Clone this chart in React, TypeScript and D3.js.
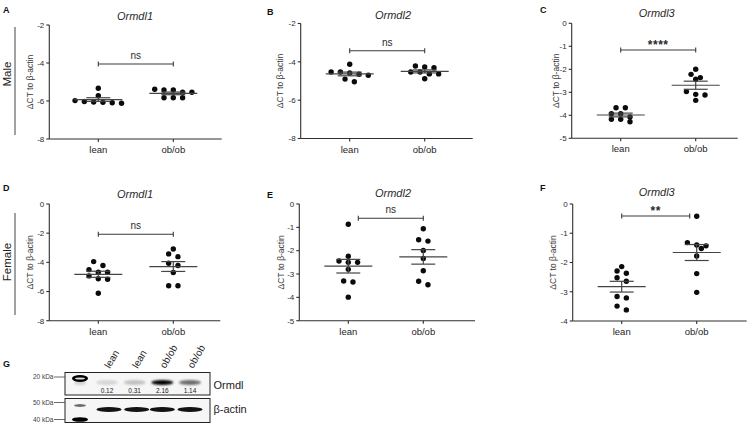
import React from "react";
import * as d3 from "d3";

const FONT = "'Liberation Sans', Arial, Helvetica, sans-serif";

const groups = ["lean", "ob/ob"];
const panelLetters = ["A", "B", "C", "D", "E", "F"];
const genes = ["Ormdl1", "Ormdl2", "Ormdl3", "Ormdl1", "Ormdl2", "Ormdl3"];
const sigLabels = ["ns", "ns", "****", "ns", "ns", "**"];
const sexLabels = ["Male", "Female"];
const yAxisTitle = "\u0394CT to \u03b2-actin";

const leanA = [-6.07, -5.98, -6.09, -5.72, -5.33, -6.03, -6.12, -6.05];
const obA = [-5.38, -5.54, -5.83, -5.42, -5.83, -5.54, -5.83, -5.42];
const leanB = [-4.53, -4.65, -5.04, -4.13, -4.7, -4.58, -4.9, -4.53];
const obB = [-4.31, -4.63, -4.53, -4.88, -4.27, -4.63, -4.22, -4.53];
const leanC = [-3.93, -4.28, -3.67, -4.07, -3.67, -3.93, -4.17, -4.17];
const obC = [-2.0, -2.22, -2.36, -2.43, -3.12, -2.97, -3.09, -3.35];
const leanD = [-3.95, -4.68, -5.16, -4.5, -4.93, -4.22, -4.68, -5.12, -6.12];
const obD = [-3.08, -3.61, -3.42, -4.22, -4.06, -4.7, -5.6, -5.6];
const leanE = [-0.87, -2.24, -2.5, -2.44, -2.5, -2.8, -3.34, -3.3, -3.99];
const obE = [-1.06, -1.59, -1.53, -1.99, -2.33, -2.86, -3.46, -3.31];
const leanF = [-2.14, -2.37, -2.29, -2.64, -2.52, -3.21, -3.16, -3.49, -3.62];
const obF = [-0.42, -1.32, -1.4, -1.43, -1.52, -1.78, -2.38, -3.02];

const ticksA = [-8, -6, -4, -2];
const ticksB = [-8, -6, -4, -2];
const ticksC = [-5, -4, -3, -2, -1, 0];
const ticksD = [-8, -6, -4, -2, 0];
const ticksE = [-5, -4, -3, -2, -1, 0];
const ticksF = [-4, -3, -2, -1, 0];

const blotLanes = ["lean", "lean", "ob/ob", "ob/ob"];
const blotQuant = [0.12, 0.31, 2.16, 1.14];
const blotTargets = ["Ormdl", "\u03b2-actin"];
const markerLabels = ["20 kDa", "50 kDa", "40 kDa"];

const panelData = [
  [leanA, obA],
  [leanB, obB],
  [leanC, obC],
  [leanD, obD],
  [leanE, obE],
  [leanF, obF],
];
const panelTicks = [ticksA, ticksB, ticksC, ticksD, ticksE, ticksF];

// layout (pixel geometry only)
const layouts = [
  { x0: 49.3, w: 172.4, yTop: 25, yBot: 139, lx: 3, ly: 9.5, tx: 135, ty: 20, ytX: 30, brY: 64, brL: 0, brR: 0 },
  { x0: 300.7, w: 172, yTop: 23.5, yBot: 138.5, lx: 267, ly: 11.5, tx: 393, ty: 19, ytX: 280, brY: 50.7, brL: 0, brR: 0 },
  { x0: 571.7, w: 166, yTop: 23.3, yBot: 138.3, lx: 540, ly: 9.5, tx: 656.7, ty: 17, ytX: 556, brY: 50, brL: 0, brR: 0 },
  { x0: 49.3, w: 171, yTop: 204, yBot: 320.7, lx: 3, ly: 187.5, tx: 135, ty: 198, ytX: 30, brY: 234.3, brL: 0, brR: 0 },
  { x0: 299.3, w: 175.7, yTop: 204, yBot: 320.7, lx: 267, ly: 194.5, tx: 393, ty: 197.3, ytX: 280.7, brY: 218.3, brL: 10, brR: 0 },
  { x0: 572.7, w: 174, yTop: 204, yBot: 321, lx: 540, ly: 187.5, tx: 656.7, ty: 196.3, ytX: 553.3, brY: 216, brL: 0, brR: -7 },
];

const R = 2.7;
const STEP = 9.3;

function swarm(ys: number[], cx: number) {
  const idx = ys.map((_, i) => i).sort((a, b) => ys[a] - ys[b]);
  const xs = new Array(ys.length).fill(cx);
  const placed: [number, number][] = [];
  let i = 0;
  while (i < idx.length) {
    const row = [idx[i]];
    let j = i + 1;
    while (j < idx.length && ys[idx[j]] - ys[idx[i]] < 4) {
      row.push(idx[j]);
      j++;
    }
    const n = row.length;
    const shifts = [0, 0.5, -0.5, 1, -1];
    let chosen: number[] | null = null;
    for (const s of shifts) {
      const cand = row.map((_, m) => cx + (m - (n - 1) / 2 + s) * STEP);
      const ok = row.every((k, m) =>
        placed.every(([px, py]) => Math.hypot(px - cand[m], py - ys[k]) >= 4.4)
      );
      if (ok) {
        chosen = cand;
        break;
      }
    }
    if (!chosen) chosen = row.map((_, m) => cx + (m - (n - 1) / 2) * STEP);
    row.forEach((k, m) => {
      xs[k] = chosen![m];
      placed.push([chosen![m], ys[k]]);
    });
    i = j;
  }
  return xs;
}

function Panel({ p }: { p: number }) {
  const L = layouts[p];
  const ticks = panelTicks[p];
  const [lo, hi] = d3.extent(ticks) as [number, number];
  const y = d3.scaleLinear().domain([lo, hi]).range([L.yBot, L.yTop]);
  const x = d3.scalePoint<string>().domain(groups).range([L.x0 + 49, L.x0 + 124]);
  const axisCol = "#2e2e2e";
  const lineCol = "#444";
  const data = panelData[p];
  const midY = (L.yTop + L.yBot) / 2;
  const bx1 = (x(groups[0]) as number) + L.brL;
  const bx2 = (x(groups[1]) as number) + L.brR;
  const sig = sigLabels[p];
  const isStar = sig.startsWith("*");
  return (
    <g>
      <text x={L.lx} y={L.ly + 3.3} fontSize={9} fontWeight="bold" fontFamily={FONT} fill="#111">
        {panelLetters[p]}
      </text>
      <text x={L.tx} y={L.ty} fontSize={11} fontStyle="italic" fontFamily={FONT} fill="#2a2a2a" textAnchor="middle">
        {genes[p]}
      </text>
      <text
        transform={`translate(${L.ytX + 3},${midY}) rotate(-90)`}
        fontSize={8.5}
        fontFamily={FONT}
        fill="#3a3a3a"
        textAnchor="middle"
      >
        {yAxisTitle}
      </text>
      {/* y axis */}
      <line x1={L.x0} x2={L.x0} y1={L.yTop} y2={L.yBot} stroke={axisCol} strokeWidth={1.1} />
      {ticks.map((t) => (
        <g key={t}>
          <line x1={L.x0 - 3} x2={L.x0} y1={y(t)} y2={y(t)} stroke={axisCol} strokeWidth={1.1} />
          <text x={L.x0 - 5} y={y(t) + 2.8} fontSize={8} fontFamily={FONT} fill="#2a2a2a" textAnchor="end">
            {t}
          </text>
        </g>
      ))}
      {/* x axis */}
      <line x1={L.x0} x2={L.x0 + L.w} y1={L.yBot} y2={L.yBot} stroke={axisCol} strokeWidth={1.1} />
      {groups.map((g) => (
        <g key={g}>
          <line x1={x(g)} x2={x(g)} y1={L.yBot} y2={L.yBot + 3} stroke={axisCol} strokeWidth={1.1} />
          <text x={x(g)} y={L.yBot + 14} fontSize={9.5} fontFamily={FONT} fill="#1e1e1e" textAnchor="middle">
            {g}
          </text>
        </g>
      ))}
      {/* points, mean, sem */}
      {groups.map((g, gi) => {
        const vals = data[gi];
        const cx = x(g) as number;
        const ys = vals.map((v) => y(v));
        const xs = swarm(ys, cx);
        const m = d3.mean(vals) as number;
        const sem = (d3.deviation(vals) as number) / Math.sqrt(vals.length);
        return (
          <g key={g}>
            {vals.map((v, i) => (
              <circle key={i} cx={xs[i]} cy={ys[i]} r={R} fill="#0b0b0b" />
            ))}
            <line x1={cx - 24} x2={cx + 24} y1={y(m)} y2={y(m)} stroke={lineCol} strokeWidth={1.2} />
            <line x1={cx} x2={cx} y1={y(m + sem)} y2={y(m - sem)} stroke={lineCol} strokeWidth={1.2} />
            <line x1={cx - 12} x2={cx + 12} y1={y(m + sem)} y2={y(m + sem)} stroke={lineCol} strokeWidth={1.2} />
            <line x1={cx - 12} x2={cx + 12} y1={y(m - sem)} y2={y(m - sem)} stroke={lineCol} strokeWidth={1.2} />
          </g>
        );
      })}
      {/* significance bracket */}
      <line x1={bx1} x2={bx2} y1={L.brY} y2={L.brY} stroke="#3a3a3a" strokeWidth={1.1} />
      <line x1={bx1} x2={bx1} y1={L.brY - 2.5} y2={L.brY + 2.5} stroke="#3a3a3a" strokeWidth={1.1} />
      <line x1={bx2} x2={bx2} y1={L.brY - 2.5} y2={L.brY + 2.5} stroke="#3a3a3a" strokeWidth={1.1} />
      <text
        x={(bx1 + bx2) / 2}
        y={isStar ? L.brY - 1 : L.brY - 5}
        fontSize={isStar ? 12 : 10}
        fontWeight={isStar ? "bold" : "normal"}
        fontFamily={FONT}
        fill="#2a2a2a"
        textAnchor="middle"
        letterSpacing={isStar ? 0.5 : 0}
      >
        {sig}
      </text>
    </g>
  );
}

function Blot() {
  const lx = d3.scalePoint<string>().domain(blotLanes.map((_, i) => String(i))).range([107, 190]);
  const maxQ = d3.max(blotQuant) as number;
  const fmt = d3.format(".2f");
  return (
    <g fontFamily={FONT}>
      <defs>
        <filter id="blur1" x="-50%" y="-100%" width="200%" height="300%">
          <feGaussianBlur stdDeviation="1.1" />
        </filter>
        <filter id="blur2" x="-50%" y="-100%" width="200%" height="300%">
          <feGaussianBlur stdDeviation="0.6" />
        </filter>
      </defs>
      <text x={3} y={367} fontSize={9} fontWeight="bold" fill="#111">G</text>
      {/* boxes */}
      <rect x={65} y={372.5} width={145} height={22.5} fill="#f6f6f6" stroke="#222" strokeWidth={1} />
      <rect x={65} y={398.5} width={145} height={24} fill="#f6f6f6" stroke="#222" strokeWidth={1} />
      {/* marker lane */}
      <ellipse cx={80} cy={383} rx={6} ry={2} fill="#000" opacity={0.15} filter="url(#blur1)" />
      <ellipse cx={80} cy={378.5} rx={8} ry={3.4} fill="#000" filter="url(#blur2)" />
      <ellipse cx={80} cy={378.5} rx={5} ry={1} fill="#ddd" />
      <ellipse cx={80} cy={405.5} rx={6} ry={1.4} fill="#000" opacity={0.55} filter="url(#blur2)" />
      <ellipse cx={80} cy={419.5} rx={8} ry={2.3} fill="#000" filter="url(#blur2)" />
      {/* ormdl bands */}
      {blotQuant.map((q, i) => {
        const cx = lx(String(i)) as number;
        return (
          <g key={i}>
            <ellipse
              cx={cx}
              cy={382.5}
              rx={11}
              ry={2.6}
              fill="#000"
              opacity={0.08 + 0.92 * (q / maxQ)}
              filter="url(#blur1)"
            />
            <text x={cx} y={392.5} fontSize={6.5} fill="#222" textAnchor="middle">
              {fmt(q)}
            </text>
          </g>
        );
      })}
      {/* actin bands */}
      {blotLanes.map((_, i) => {
        const cx = (lx(String(i)) as number) + (i < 2 ? 2 : 0);
        return (
          <ellipse key={i} cx={cx} cy={409.5} rx={12.5} ry={2.4} fill="#000" opacity={0.92} filter="url(#blur2)" />
        );
      })}
      {/* lane labels */}
      {blotLanes.map((l, i) => (
        <text
          key={i}
          transform={`translate(${(lx(String(i)) as number) + 3},369) rotate(-60)`}
          fontSize={10}
          fill="#222"
        >
          {l}
        </text>
      ))}
      {/* kDa markers */}
      {markerLabels.map((m, i) => {
        const yy = [377, 402.5, 419.5][i];
        return (
          <g key={m}>
            <text x={53.5} y={yy + 2} fontSize={6.5} fill="#444" textAnchor="end">
              {m}
            </text>
            <line x1={54} x2={65} y1={yy} y2={yy} stroke="#444" strokeWidth={0.8} />
          </g>
        );
      })}
      {blotTargets.map((t, i) => (
        <text key={t} x={213.5} y={[389, 413][i]} fontSize={11} fill="#222">
          {t}
        </text>
      ))}
    </g>
  );
}

export default function App() {
  return (
    <svg
      width={748}
      height={424}
      style={{ position: "absolute", left: 0, top: 0, background: "#fff" }}
    >
      <rect width={748} height={424} fill="#fff" />
      {sexLabels.map((s, i) => {
        const cy = [74, 262][i];
        const y1 = [27, 213][i];
        const y2 = [135, 315][i];
        return (
          <g key={s}>
            <text
              transform={`translate(11,${cy}) rotate(-90)`}
              fontSize={11.5}
              fontFamily={FONT}
              fill="#222"
              textAnchor="middle"
            >
              {s}
            </text>
            <line x1={15} x2={15} y1={y1} y2={y2} stroke="#444" strokeWidth={1} />
          </g>
        );
      })}
      {panelLetters.map((_, p) => (
        <Panel key={p} p={p} />
      ))}
      <Blot />
    </svg>
  );
}
